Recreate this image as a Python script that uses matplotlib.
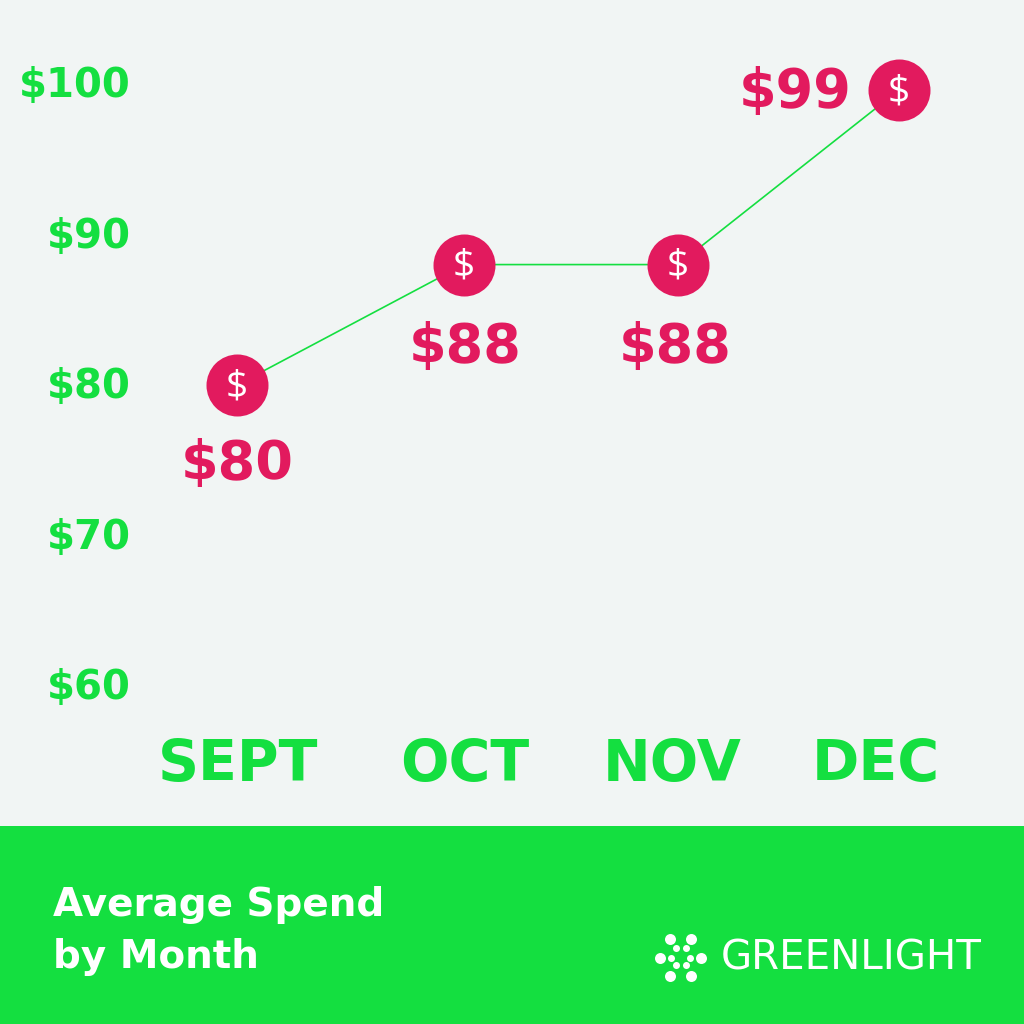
import matplotlib
matplotlib.use('Agg')
import matplotlib.pyplot as plt
from matplotlib.patches import Rectangle

months = ['SEPT', 'OCT', 'NOV', 'DEC']
spend = [80, 88, 88, 99.6]
spend_labels = ['$80', '$88', '$88', '$99']
y_ticks = [100, 90, 80, 70, 60]
y_tick_labels = ['$100', '$90', '$80', '$70', '$60']
title_lines = ['Average Spend', 'by Month']
brand = 'GREENLIGHT'

BG = '#f1f5f4'
GREEN = '#14df40'
PINK = '#e21a5e'
FONT = 'DejaVu Sans'

# pixel spots, the spacing in the original is not even
point_x = [237, 464, 678, 899]
month_x = [238, 465, 672, 876]
label_off = [(0, 79), (1, 82), (-3, 82), (-104, 2)]

fig = plt.figure(figsize=(10.24, 10.24), dpi=100, facecolor=BG)
ax = fig.add_axes([0, 0, 1, 1])
ax.set_xlim(0, 1024)
ax.set_ylim(37.54, 105.58)
ax.axis('off')

# overlay in pixels for the banner and all the text
px = fig.add_axes([0, 0, 1, 1])
px.set_xlim(0, 1024)
px.set_ylim(1024, 0)
px.axis('off')
px.patch.set_alpha(0)

px.add_patch(Rectangle((0, 826), 1024, 198, color=GREEN, lw=0))

ax.plot(point_x, spend, color=GREEN, lw=1.2, zorder=2)
ax.scatter(point_x, spend, s=(62 * 0.72) ** 2, color=PINK, lw=0, zorder=3)

for x, v in zip(point_x, spend):
    ax.annotate('$', (x, v), xytext=(0, 1.5), textcoords='offset points', ha='center',
                va='center_baseline', color='white', fontsize=28, family='Open Sans',
                fontweight='normal', zorder=4)

for x, v, lab, off in zip(point_x, spend, spend_labels, label_off):
    ax.annotate(lab, (x, v), xytext=(off[0] * 0.72, -off[1] * 0.72), textcoords='offset points',
                ha='center', va='center', color=PINK, fontsize=39, family=FONT,
                fontweight='bold', zorder=4)

for t, lab in zip(y_ticks, y_tick_labels):
    ax.annotate(lab, (131, t), xytext=(0, -1.5), textcoords='offset points', ha='right',
                va='center', color=GREEN, fontsize=29, family=FONT, fontweight='bold')

for x, m in zip(month_x, months):
    px.text(x, 766, m, ha='center', va='center', color=GREEN, fontsize=41,
            family=FONT, fontweight='bold')

px.text(53, 905, title_lines[0], ha='left', va='center', color='white', fontsize=28,
        family=FONT, fontweight='bold')
px.text(53, 957, title_lines[1], ha='left', va='center', color='white', fontsize=28,
        family=FONT, fontweight='bold')

# logo dots
big_x = [670, 691, 660, 701, 670, 691]
big_y = [939, 939, 958, 958, 976, 976]
small_x = [676, 686, 671, 690, 676, 686]
small_y = [948, 948, 958, 958, 965, 965]
px.scatter(big_x, big_y, s=(11 * 0.72) ** 2, color='white', lw=0)
px.scatter(small_x, small_y, s=(7 * 0.72) ** 2, color='white', lw=0)
px.text(721, 958, brand, ha='left', va='center', color='white', fontsize=29,
        family=FONT, fontweight='normal')

fig.savefig('out.png', dpi=100, facecolor=BG)
